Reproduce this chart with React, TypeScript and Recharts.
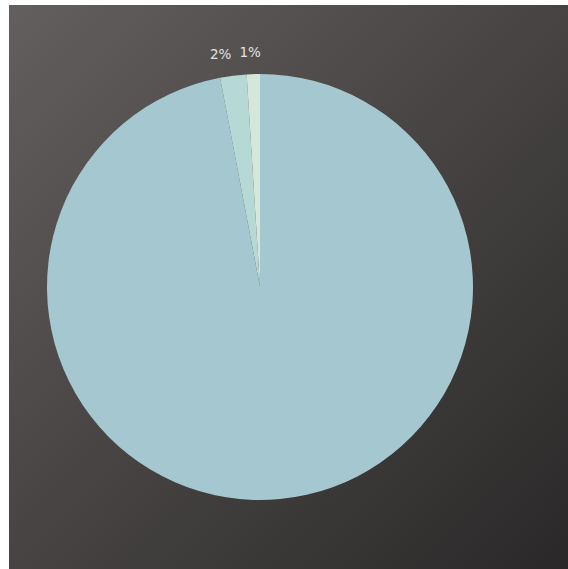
import React from "react";
import { PieChart, Pie, Cell } from "recharts";

const categories = ["A", "B", "C"];
const values = [97, 2, 1];
const labels = ["", "2%", "1%"];
const colors = ["#a5c7cf", "#b6d9d5", "#d4e7da"];

const data = categories.map((name, i) => ({ name, value: values[i], label: labels[i] }));

const RAD = Math.PI / 180;

const renderLabel = (props: any) => {
  const { cx, cy, midAngle, outerRadius, index } = props;
  const text = labels[index];
  if (!text) return null;
  const rx = outerRadius * 1.475;
  const ry = outerRadius + 22;
  const x = cx + rx * Math.cos(-midAngle * RAD);
  const y = cy + ry * Math.sin(-midAngle * RAD);
  return (
    <text
      x={x}
      y={y}
      fill="#e2e2e2"
      fontSize={13.5}
      fontFamily="DejaVu Sans, sans-serif"
      textAnchor="middle"
      dominantBaseline="central"
    >
      {text}
    </text>
  );
};

export default function App() {
  return (
    <div
      style={{
        position: "absolute",
        left: 9,
        top: 5,
        width: 559,
        height: 564,
        background: "linear-gradient(135deg, #635f5e 0%, #4a4646 45%, #2a2828 100%)",
      }}
    >
      <PieChart width={559} height={564}>
        <Pie
          data={data}
          dataKey="value"
          nameKey="name"
          cx={246}
          cy={277}
          outerRadius={213}
          startAngle={90}
          endAngle={-270}
          stroke="none"
          label={renderLabel}
          labelLine={false}
          isAnimationActive={false}
        >
          {data.map((d, i) => (
            <Cell key={d.name} fill={colors[i]} />
          ))}
        </Pie>
      </PieChart>
    </div>
  );
}
